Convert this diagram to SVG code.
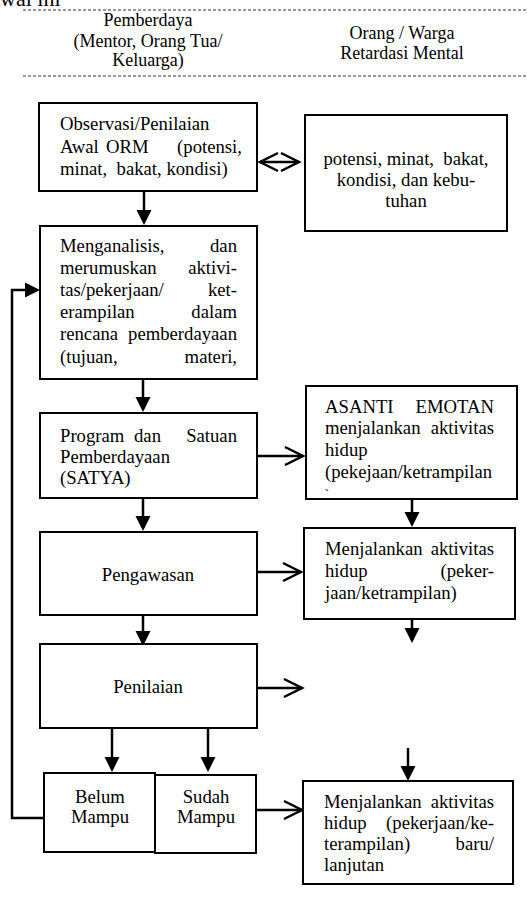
<svg xmlns="http://www.w3.org/2000/svg" width="527" height="919" viewBox="0 0 527 919">
<style>
text{font-family:"Liberation Serif","Times New Roman",serif;font-size:18.7px;fill:#000}
.h{font-size:18px}
.c{text-anchor:middle}
.e{text-anchor:end}
.box{fill:#fff;stroke:#000;stroke-width:2}
.ln{fill:none;stroke:#000;stroke-width:2.5}
.dash{stroke:#333;stroke-width:1;stroke-dasharray:3,2}
</style>
<defs>
<marker id="fa" markerUnits="userSpaceOnUse" markerWidth="16" markerHeight="16" viewBox="0 0 16 16" refX="12" refY="8" orient="auto">
<path d="M0,0.5 L15,8 L0,15.5 z" fill="#000"/>
</marker>
<marker id="oa" markerUnits="userSpaceOnUse" markerWidth="22" markerHeight="22" viewBox="0 0 22 22" refX="19" refY="11" orient="auto" overflow="visible">
<path d="M1,2 L19,11 L1,20" fill="none" stroke="#000" stroke-width="2.5"/>
</marker>
<marker id="oas" markerUnits="userSpaceOnUse" markerWidth="22" markerHeight="22" viewBox="0 0 22 22" refX="19" refY="11" orient="auto-start-reverse" overflow="visible">
<path d="M1,2 L19,11 L1,20" fill="none" stroke="#000" stroke-width="2.5"/>
</marker>
<clipPath id="clip5"><rect x="307" y="387" width="209" height="104"/></clipPath>
</defs>

<g id="header">
<text x="0" y="6" style="font-size:22px">wal ini</text>
<line class="dash" x1="23" y1="10" x2="527" y2="10"/>
<line class="dash" x1="23" y1="76" x2="527" y2="76"/>
<text class="c h" x="148" y="26">Pemberdaya</text>
<text class="c h" x="148" y="47">(Mentor, Orang Tua/</text>
<text class="c h" x="148" y="66">Keluarga)</text>
<text class="c h" x="402" y="39">Orang / Warga</text>
<text class="c h" x="402" y="59">Retardasi Mental</text>
</g>

<g id="connectors">
<line class="ln" x1="260" y1="162" x2="299" y2="162" marker-start="url(#oas)" marker-end="url(#oa)"/>
<line class="ln" x1="144" y1="192" x2="144" y2="222" marker-end="url(#fa)"/>
<path class="ln" d="M44,818 H12 V290 H37" marker-end="url(#fa)"/>
<line class="ln" x1="143" y1="380" x2="143" y2="409" marker-end="url(#fa)"/>
<line class="ln" x1="257" y1="456" x2="303" y2="456" marker-end="url(#oa)"/>
<line class="ln" x1="412" y1="500" x2="412" y2="524" marker-end="url(#fa)"/>
<line class="ln" x1="143" y1="499" x2="143" y2="528" marker-end="url(#fa)"/>
<line class="ln" x1="257" y1="572" x2="301" y2="572" marker-end="url(#oa)"/>
<line class="ln" x1="412" y1="620" x2="412" y2="640" marker-end="url(#fa)"/>
<line class="ln" x1="143" y1="616" x2="143" y2="643" marker-end="url(#fa)"/>
<line class="ln" x1="257" y1="688" x2="302" y2="688" marker-end="url(#oa)"/>
<line class="ln" x1="112" y1="729" x2="112" y2="769" marker-end="url(#fa)"/>
<line class="ln" x1="208" y1="729" x2="208" y2="769" marker-end="url(#fa)"/>
<line class="ln" x1="256" y1="810" x2="302" y2="810" marker-end="url(#oa)"/>
<line class="ln" x1="408" y1="748" x2="408" y2="778" marker-end="url(#fa)"/>
</g>

<g id="observasi">
<rect class="box" x="39" y="103" width="218" height="88"/>
<text x="60" y="130">Observasi/Penilaian</text>
<text x="60" y="153">Awal</text>
<text x="106" y="153">ORM</text>
<text class="e" x="242" y="153">(potensi,</text>
<text x="60" y="175" xml:space="preserve">minat,  bakat, kondisi)</text>
</g>

<g id="potensi">
<rect class="box" x="305" y="115" width="202" height="116"/>
<text class="c" x="406" y="165" xml:space="preserve">potensi, minat,  bakat,</text>
<text class="c" x="406" y="186">kondisi, dan kebu-</text>
<text class="c" x="406" y="207">tuhan</text>
</g>

<g id="menganalisis">
<rect class="box" x="40" y="226" width="217" height="153"/>
<text x="60" y="252">Menganalisis,</text>
<text class="e" x="237" y="252">dan</text>
<text x="60" y="274">merumuskan</text>
<text class="e" x="237" y="274">aktivi-</text>
<text x="60" y="296">tas/pekerjaan/</text>
<text class="e" x="237" y="296">ket-</text>
<text x="60" y="318">erampilan</text>
<text class="e" x="237" y="318">dalam</text>
<text x="60" y="340">rencana</text>
<text class="e" x="237" y="340">pemberdayaan</text>
<text x="60" y="363">(tujuan,</text>
<text class="e" x="237" y="363">materi,</text>
</g>

<g id="program">
<rect class="box" x="40" y="413" width="217" height="85"/>
<text x="60" y="442">Program</text>
<text x="134" y="442">dan</text>
<text class="e" x="237" y="442">Satuan</text>
<text x="60" y="463">Pemberdayaan</text>
<text x="60" y="484">(SATYA)</text>
</g>

<g id="asanti">
<rect class="box" x="306" y="386" width="211" height="113"/>
<text x="325" y="413">ASANTI</text>
<text class="e" x="494" y="413">EMOTAN</text>
<text x="325" y="434">menjalankan</text>
<text class="e" x="494" y="434">aktivitas</text>
<text x="325" y="456">hidup</text>
<text x="325" y="478">(pekejaan/ketrampilan</text>
<text x="325" y="502" clip-path="url(#clip5)">)</text>
</g>

<g id="pengawasan">
<rect class="box" x="40" y="532" width="217" height="83"/>
<text class="c" x="148" y="581">Pengawasan</text>
</g>

<g id="menjalankan1">
<rect class="box" x="304" y="528" width="211" height="91"/>
<text x="325" y="555">Menjalankan</text>
<text class="e" x="494" y="555">aktivitas</text>
<text x="325" y="577">hidup</text>
<text class="e" x="494" y="577">(peker-</text>
<text x="325" y="599">jaan/ketrampilan)</text>
</g>

<g id="penilaian">
<rect class="box" x="40" y="644" width="217" height="84"/>
<text class="c" x="148" y="693">Penilaian</text>
</g>

<g id="belum">
<rect class="box" x="44" y="773" width="111" height="79"/>
<text class="c" x="100" y="803">Belum</text>
<text class="c" x="100" y="823">Mampu</text>
</g>

<g id="sudah">
<rect class="box" x="155" y="775" width="101" height="78"/>
<text class="c" x="206" y="803">Sudah</text>
<text class="c" x="206" y="823">Mampu</text>
</g>

<g id="menjalankan2">
<rect class="box" x="303" y="781" width="210" height="103"/>
<text x="324" y="808">Menjalankan</text>
<text class="e" x="494" y="808">aktivitas</text>
<text x="324" y="829">hidup</text>
<text class="e" x="494" y="829">(pekerjaan/ke-</text>
<text x="324" y="850">terampilan)</text>
<text class="e" x="494" y="850">baru/</text>
<text x="324" y="871">lanjutan</text>
</g>
</svg>
